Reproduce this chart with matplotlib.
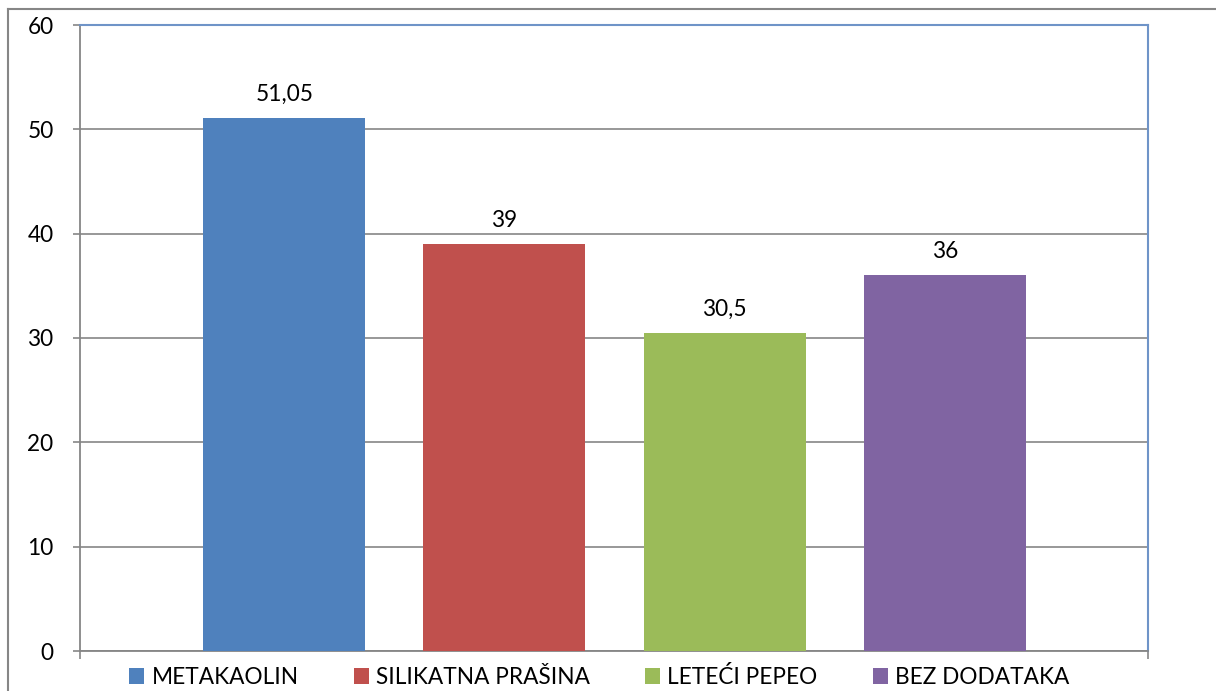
import numpy as np
import matplotlib.pyplot as plt
from matplotlib.lines import Line2D
from matplotlib.patches import Patch

plt.rcParams['font.family'] = ['Lato', 'DejaVu Sans']

names = ['METAKAOLIN', 'SILIKATNA PRAŠINA', 'LETEĆI PEPEO', 'BEZ DODATAKA']
values = [51.05, 39, 30.5, 36]
labels = ['51,05', '39', '30,5', '36']
colors = ['#4F81BD', '#C0504D', '#9BBB59', '#8064A2']

fig = plt.figure(figsize=(12.16, 6.91), dpi=100)
ax = fig.add_axes([80 / 1216, 1 - 651 / 691, 1068 / 1216, 626 / 691])

x = np.arange(len(values))
bars = ax.bar(x, values, width=162 / 220, color=colors, zorder=3)

for b, lab in zip(bars, labels):
    ax.annotate(lab, (b.get_x() + b.get_width() / 2, b.get_height()),
                xytext=(0, 17), textcoords='offset points',
                ha='center', va='center', fontsize=16.3, color='black')

ax.set_xlim(-(123 + 81) / 220, 3 + (122 + 81) / 220)
ax.set_ylim(0, 60)
ax.set_yticks(range(0, 61, 10))
ax.set_xticks([ax.get_xlim()[0], ax.get_xlim()[1]])
ax.set_xticklabels([])
ax.tick_params(axis='y', length=5, width=1.2, color='#868686', pad=14, labelsize=16.3)
ax.tick_params(axis='x', length=6, width=1.2, color='#868686')
ax.yaxis.grid(True, color='#868686', linewidth=1.2, zorder=0)
ax.set_axisbelow(True)

for s in ['left', 'bottom']:
    ax.spines[s].set_color('#868686')
    ax.spines[s].set_linewidth(1.3)
for s in ['top', 'right']:
    ax.spines[s].set_color('#6F94C8')
    ax.spines[s].set_linewidth(1.5)

handles = [Patch(facecolor=c, label=n) for c, n in zip(colors, names)]
fig.legend(handles=handles, loc='center', bbox_to_anchor=(0.493, 1 - 677 / 691),
           ncol=4, frameon=False, fontsize=16.3, handlelength=0.66,
           handleheight=0.66, handletextpad=0.31, columnspacing=2.45,
           borderpad=0, borderaxespad=0)

# outer frame lines
fig.add_artist(Line2D([8 / 1216, 8 / 1216], [0, 1 - 9 / 691], color='#868686', lw=1.5))
fig.add_artist(Line2D([8 / 1216, 1], [1 - 9 / 691, 1 - 9 / 691], color='#868686', lw=1.5))

fig.savefig('out.png', dpi=100)
